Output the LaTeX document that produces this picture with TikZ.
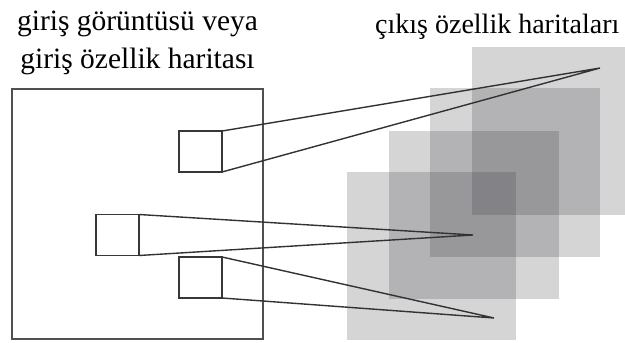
\documentclass[tikz,border=0pt]{standalone}
\usepackage{fontspec}
\setmainfont{Liberation Serif}
\definecolor{framegray}{RGB}{80,80,80}
\definecolor{patchgray}{RGB}{55,55,55}
\definecolor{raygray}{RGB}{50,50,50}
\definecolor{mapshade}{RGB}{45,45,52}
\begin{document}
\begin{tikzpicture}[x=1pt,y=-1pt,
  frame/.style={draw=framegray, line width=1.6pt},
  patch/.style={draw=patchgray, line width=1.5pt, rectangle,
    inner sep=0pt, outer sep=0pt, minimum width=43pt, minimum height=41pt},
  ray/.style={draw=raygray, line width=1.4pt, line join=miter},
  fmap/.style={fill=mapshade, fill opacity=0.2},
  title/.style={font=\fontsize{29.5}{35}\selectfont, inner sep=0pt, anchor=base}]
\clip (0,0) rectangle (625,343);

% labels
\node[title] (t1) at (137.5,30) {giriş görüntüsü veya};
\node[title] (t2) at (137.5,68) {giriş özellik haritası};
\node[title, anchor=base west, font=\fontsize{28}{34}\selectfont] (t3) at (375,33) {çıkış özellik haritaları};

% stacked output feature maps
\fill[fmap] (472,47) rectangle (642,215);
\fill[fmap] (430,88) rectangle (600,257);
\fill[fmap] (389,131) rectangle (559,299);
\fill[fmap] (347,172) rectangle (516,340);

% input image and its receptive fields
\node[frame, rectangle, inner sep=0pt, outer sep=0pt,
      minimum width=251pt, minimum height=250pt] (img) at (137.5,214) {};
\node[patch] (p1) at (200.5,151.5) {};
\node[patch] (p2) at (117.5,235) {};
\node[patch] (p3) at (200.5,277.5) {};

% target positions on the output maps
\coordinate (q1) at (600,68);
\coordinate (q2) at (473,235);
\coordinate (q3) at (494,318);

\draw[ray] (p1.north east) -- (q1) -- (p1.south east);
\draw[ray] (p2.north east) -- (q2) -- (p2.south east);
\draw[ray] (p3.north east) -- (q3) -- (p3.south east);
\end{tikzpicture}
\end{document}
